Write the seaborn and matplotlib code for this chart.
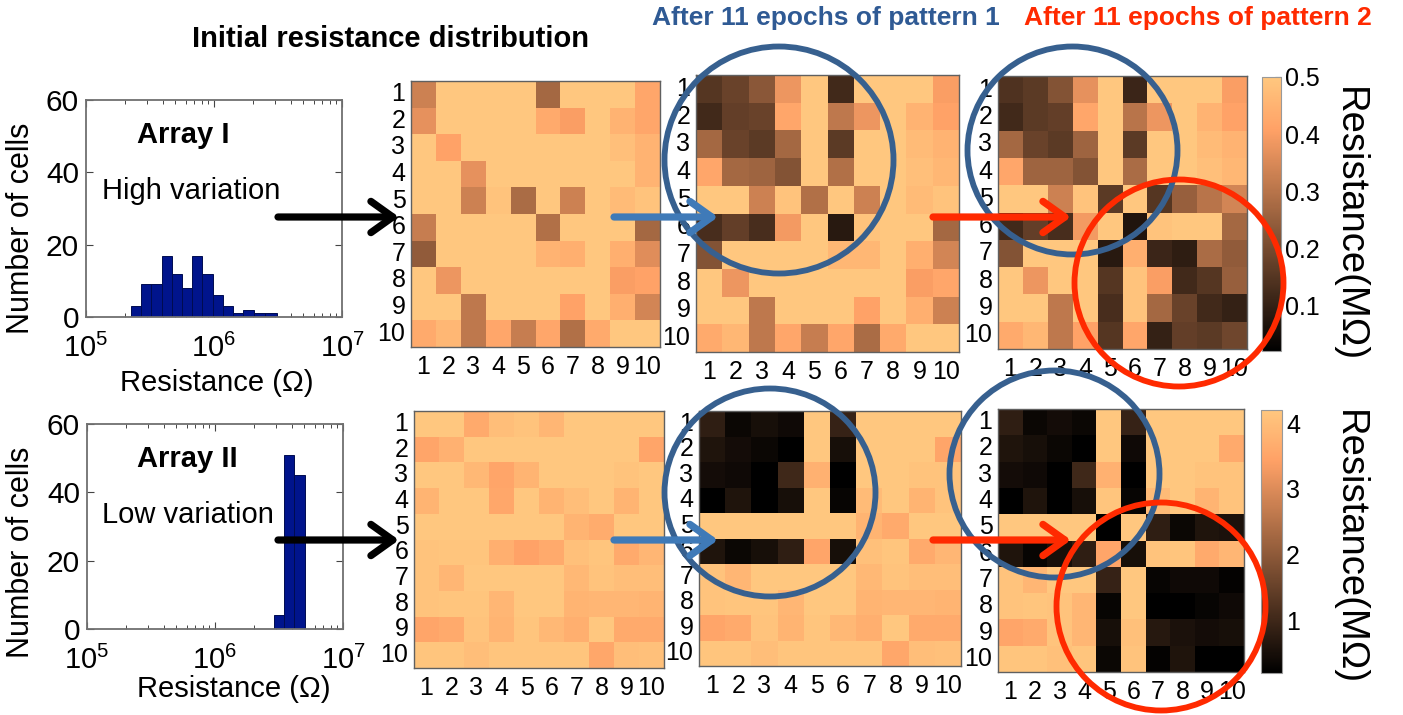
import numpy as np
import seaborn as sns
import matplotlib
matplotlib.use("Agg")
import matplotlib.pyplot as plt
from matplotlib.patches import Ellipse
from matplotlib.ticker import LogLocator, NullFormatter

W, H = 1403, 715

# histogram counts, bin edges are log10(ohm)
hist_edges_1 = [5.35, 5.43, 5.51, 5.59, 5.67, 5.75, 5.83, 5.91, 5.99, 6.07, 6.15, 6.23, 6.31, 6.40, 6.49]
hist_counts_1 = [3, 9, 9, 17, 12, 8, 17, 12, 6, 3, 1, 2, 1, 1]
hist_edges_2 = [6.46, 6.54, 6.62, 6.70]
hist_counts_2 = [4, 51, 45]

cell_labels = [str(i) for i in range(1, 11)]

# Array I, MOhm
top_initial = [
    [.33, .5, .5, .5, .5, .27, .5, .5, .5, .42],
    [.37, .5, .5, .5, .5, .43, .40, .5, .45, .42],
    [.5, .41, .5, .5, .5, .5, .5, .5, .48, .45],
    [.5, .5, .37, .5, .5, .5, .5, .5, .5, .45],
    [.5, .5, .33, .49, .28, .5, .33, .5, .47, .49],
    [.32, .5, .5, .5, .5, .29, .5, .5, .5, .27],
    [.24, .5, .5, .5, .5, .45, .44, .5, .44, .36],
    [.5, .38, .5, .5, .5, .5, .5, .5, .40, .41],
    [.5, .5, .31, .5, .5, .5, .41, .5, .44, .34],
    [.43, .46, .31, .42, .32, .42, .29, .43, .5, .5],
]
top_pattern1 = [
    [.15, .18, .23, .38, .5, .12, .5, .5, .5, .40],
    [.12, .17, .18, .42, .5, .31, .38, .5, .45, .41],
    [.27, .18, .16, .27, .5, .16, .5, .5, .47, .45],
    [.42, .27, .26, .22, .5, .29, .5, .5, .48, .46],
    [.5, .5, .33, .49, .29, .5, .33, .5, .47, .49],
    [.13, .17, .13, .39, .5, .08, .49, .5, .5, .27],
    [.22, .5, .5, .5, .5, .46, .46, .5, .44, .34],
    [.5, .38, .5, .5, .5, .5, .5, .5, .40, .42],
    [.5, .5, .31, .5, .5, .5, .41, .5, .44, .33],
    [.43, .46, .31, .42, .32, .42, .28, .43, .5, .5],
]
top_pattern2 = [
    [.14, .16, .22, .37, .5, .11, .5, .5, .5, .40],
    [.12, .16, .17, .42, .5, .30, .38, .5, .45, .41],
    [.27, .18, .16, .26, .5, .16, .5, .5, .47, .45],
    [.42, .26, .26, .22, .5, .28, .5, .5, .48, .46],
    [.5, .5, .33, .49, .16, .5, .15, .25, .30, .34],
    [.12, .17, .13, .39, .5, .07, .49, .5, .5, .27],
    [.22, .5, .5, .5, .08, .44, .11, .09, .28, .24],
    [.5, .38, .5, .5, .15, .49, .40, .12, .15, .25],
    [.5, .5, .31, .5, .13, .49, .27, .18, .12, .10],
    [.43, .46, .31, .41, .15, .42, .10, .17, .16, .19],
]

# Array II, MOhm
bottom_initial = [
    [4.2, 4.2, 3.6, 4.0, 4.1, 3.85, 4.2, 4.2, 4.2, 4.2],
    [3.5, 3.75, 4.2, 4.2, 4.2, 4.2, 4.2, 4.2, 4.2, 3.5],
    [4.2, 4.2, 3.9, 3.5, 3.8, 4.2, 4.2, 4.2, 4.1, 4.2],
    [3.8, 4.2, 4.2, 3.55, 4.2, 3.8, 4.0, 4.2, 3.8, 4.2],
    [4.2, 4.2, 4.2, 4.2, 4.2, 4.2, 3.8, 3.65, 4.2, 4.2],
    [4.1, 4.15, 4.15, 3.7, 3.45, 3.6, 4.05, 4.15, 3.6, 3.85],
    [4.1, 3.85, 4.2, 4.2, 4.2, 4.2, 3.9, 4.1, 4.0, 4.0],
    [4.1, 4.15, 4.15, 3.85, 4.2, 4.2, 3.8, 3.85, 3.85, 3.8],
    [3.5, 3.6, 4.1, 3.8, 4.15, 3.9, 3.7, 4.2, 3.6, 3.6],
    [4.15, 4.15, 4.0, 4.15, 4.15, 4.15, 4.15, 3.55, 4.0, 4.05],
]
bottom_pattern1 = [
    [.8, .35, .5, .4, 4.2, .9, 4.2, 4.2, 4.2, 4.2],
    [.6, .45, .35, .2, 4.2, .5, 4.2, 4.2, 4.2, 3.5],
    [.45, .4, .2, 1.0, 3.75, .2, 4.2, 4.2, 4.1, 4.1],
    [.2, .6, .2, .5, 4.2, .3, 3.95, 4.2, 3.8, 4.1],
    [4.2, 4.2, 4.2, 4.2, 4.2, 4.2, 3.8, 3.6, 4.2, 4.2],
    [.6, .35, .5, .8, 3.5, .5, 4.05, 4.15, 3.6, 3.85],
    [4.1, 3.85, 4.2, 4.2, 4.2, 4.2, 3.9, 4.1, 4.0, 4.0],
    [4.1, 4.15, 4.15, 3.85, 4.2, 4.2, 3.8, 3.85, 3.85, 3.8],
    [3.5, 3.6, 4.1, 3.8, 4.15, 3.9, 3.7, 4.2, 3.6, 3.6],
    [4.15, 4.15, 4.0, 4.15, 4.15, 4.15, 4.15, 3.55, 4.0, 4.05],
]
bottom_pattern2 = [
    [.8, .35, .45, .35, 4.2, .9, 4.2, 4.2, 4.2, 4.2],
    [.6, .5, .35, .2, 4.2, .4, 4.2, 4.2, 4.2, 3.6],
    [.45, .4, .2, 1.0, 3.75, .2, 4.2, 4.2, 4.1, 4.1],
    [.2, .6, .2, .5, 4.15, .3, 3.95, 4.2, 3.8, 4.1],
    [4.2, 4.2, 4.2, 4.2, .2, 4.2, .8, .35, .6, .55],
    [.6, .3, .5, .8, 3.5, .5, 4.1, 4.15, 3.6, 3.85],
    [4.1, 3.85, 4.2, 4.2, .9, 4.2, .3, .4, .4, .25],
    [4.1, 4.15, 4.1, 3.85, .3, 4.2, .2, .2, .3, .4],
    [3.5, 3.6, 4.1, 3.85, .5, 4.05, .7, .55, .45, .5],
    [4.15, 4.15, 4.05, 4.15, .35, 4.1, .25, .6, .2, .2],
]

BLUE_RING = "#37608f"
BLUE_ARROW = "#3f7ab8"
RED = "#ff2a00"
GREY = "#707070"

sns.set_theme(style="white")
plt.rcParams["font.family"] = ["Liberation Sans", "DejaVu Sans"]
plt.rcParams["mathtext.default"] = "regular"
plt.rcParams["text.color"] = "black"
plt.rcParams["xtick.labelcolor"] = "black"
plt.rcParams["ytick.labelcolor"] = "black"


# axes from pixel box of the reference
def box_axes(x0, y0, x1, y1):
    return fig.add_axes([x0 / W, 1 - y1 / H, (x1 - x0) / W, (y1 - y0) / H])


def draw_hist(edges, counts, rect):
    ax = box_axes(*rect)
    centers = [(a + b) / 2 for a, b in zip(edges[:-1], edges[1:])]
    sns.histplot(x=[10 ** c for c in centers], weights=counts, bins=edges, log_scale=True,
                 color="#00148c", edgecolor="#000c50", linewidth=0.7, alpha=1, ax=ax)
    ax.set_xlim(1e5, 1e7)
    ax.set_ylim(0, 60)
    ax.set_yticks([0, 20, 40, 60])
    ax.set_xlabel("")
    ax.set_ylabel("")
    ax.xaxis.set_major_locator(LogLocator(base=10, numticks=4))
    ax.xaxis.set_minor_locator(LogLocator(base=10, subs=range(2, 10), numticks=4))
    ax.xaxis.set_minor_formatter(NullFormatter())
    ax.tick_params(axis="both", which="major", direction="in", length=5, width=0.8,
                   color="#444444", top=True, right=True, bottom=True, left=True, labelsize=21.5)
    ax.tick_params(axis="y", pad=5)
    ax.tick_params(axis="x", which="major", pad=12, labelsize=21)
    ax.tick_params(axis="x", which="minor", direction="in", length=3, width=0.7,
                   color="#444444", top=True, bottom=True)
    for s in ax.spines.values():
        s.set_visible(True)
        s.set_color(GREY)
        s.set_linewidth(1.3)
    return ax


def draw_heat(values, rect, vmin, vmax):
    ax = box_axes(*rect)
    sns.heatmap(np.array(values), cmap="copper", vmin=vmin, vmax=vmax, cbar=False, square=False,
                xticklabels=cell_labels, yticklabels=cell_labels, ax=ax)
    ax.tick_params(axis="both", length=0, labelsize=18, pad=4)
    ax.tick_params(axis="x", labelrotation=0, pad=6)
    ax.tick_params(axis="y", labelrotation=0)
    for s in ax.spines.values():
        s.set_visible(True)
        s.set_color("#606060")
        s.set_linewidth(1.0)
    return ax


def draw_cbar(ax_heat, rect, ticks):
    cax = box_axes(*rect)
    cb = fig.colorbar(ax_heat.collections[0], cax=cax)
    cb.set_ticks(ticks)
    cb.ax.tick_params(direction="in", length=4, width=0.8, color="#554433", labelsize=18, pad=3)
    cb.outline.set_edgecolor("#999999")
    cb.outline.set_linewidth(0.8)


fig = plt.figure(figsize=(W / 100, H / 100), dpi=100)

draw_hist(hist_edges_1, hist_counts_1, (86, 100, 342, 317))
draw_hist(hist_edges_2, hist_counts_2, (87, 424, 343, 629))

draw_heat(top_initial, (411, 81, 660, 347), 0.02, 0.5)
draw_heat(top_pattern1, (696, 75, 959, 352), 0.02, 0.5)
ax_c = draw_heat(top_pattern2, (998, 76, 1247, 349), 0.02, 0.5)
draw_cbar(ax_c, (1262, 77, 1281, 351), [0.1, 0.2, 0.3, 0.4, 0.5])

draw_heat(bottom_initial, (414, 411, 664, 668), 0.2, 4.2)
draw_heat(bottom_pattern1, (699, 411, 961, 666), 0.2, 4.2)
ax_f = draw_heat(bottom_pattern2, (998, 409, 1244, 672), 0.2, 4.2)
draw_cbar(ax_f, (1261, 410, 1282, 673), [1, 2, 3, 4])

# overlay in pixel coords for rings, arrows and labels
ov = fig.add_axes([0, 0, 1, 1], zorder=10)
ov.set_xlim(0, W)
ov.set_ylim(H, 0)
ov.axis("off")
ov.patch.set_alpha(0)

rings = [
    (662, 44, 896, 276, BLUE_RING), (965, 44, 1180, 257, BLUE_RING), (1072, 177, 1286, 389, RED),
    (662, 386, 878, 599, BLUE_RING), (947, 368, 1162, 580, BLUE_RING), (1054, 500, 1268, 713, RED),
]
for x0, y0, x1, y1, c in rings:
    ov.add_patch(Ellipse(((x0 + x1) / 2, (y0 + y1) / 2), x1 - x0 - 5, y1 - y0 - 5,
                         fill=False, edgecolor=c, linewidth=4.2))

for y in (217, 540):
    for x0, x1, c in [(278, 399, "black"), (614, 718, BLUE_ARROW), (933, 1071, RED)]:
        ov.annotate("", xy=(x1, y), xytext=(x0, y),
                    arrowprops=dict(arrowstyle="->,head_length=1.05,head_width=0.75", color=c, lw=5.2,
                                    mutation_scale=15, shrinkA=0, shrinkB=0))

ov.text(390, 39, "Initial resistance distribution", fontsize=21, fontweight="bold", ha="center", va="center")
ov.text(826, 18, "After 11 epochs of pattern 1", fontsize=19, fontweight="bold", color="#2f5a94", ha="center", va="center")
ov.text(1198, 18, "After 11 epochs of pattern 2", fontsize=19, fontweight="bold", color=RED, ha="center", va="center")

ov.text(183, 135, "Array I", fontsize=21, fontweight="bold", ha="center", va="center")
ov.text(191, 191, "High variation", fontsize=21, ha="center", va="center")
ov.text(187, 459, "Array II", fontsize=21, fontweight="bold", ha="center", va="center")
ov.text(188, 515, "Low variation", fontsize=21, ha="center", va="center")

ov.text(217, 383, "Resistance (Ω)", fontsize=21, ha="center", va="center")
ov.text(234, 689, "Resistance (Ω)", fontsize=21, ha="center", va="center")
ov.text(21, 228, "Number of cells", fontsize=22, rotation=90, ha="center", va="center")
ov.text(21, 552, "Number of cells", fontsize=22, rotation=90, ha="center", va="center")
ov.text(1349, 225, "Resistance(MΩ)", fontsize=27.5, rotation=270, ha="center", va="center")
ov.text(1349, 548, "Resistance(MΩ)", fontsize=27.5, rotation=270, ha="center", va="center")

fig.savefig("out.png", dpi=100)
